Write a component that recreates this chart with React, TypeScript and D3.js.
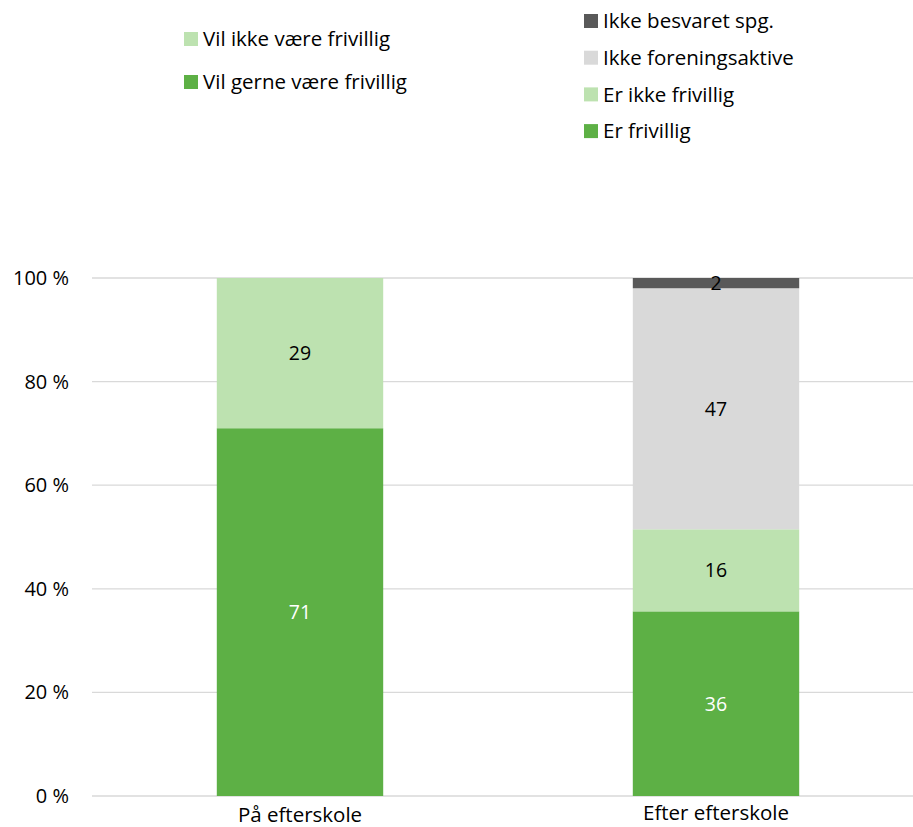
import React from "react";
import * as d3 from "d3";

const categories = ["På efterskole", "Efter efterskole"];
const seriesNames = ["Er frivillig", "Er ikke frivillig", "Ikke foreningsaktive", "Ikke besvaret spg."];
const barValues = [
  [71, 29, 0, 0],
  [36, 16, 47, 2],
];
const colors = ["#5DB045", "#BDE2B0", "#D9D9D9", "#595959"];
const labelColors = ["#FFFFFF", "#000000", "#000000", "#000000"];
const yTicks = [0, 20, 40, 60, 80, 100];
const legend1 = [
  { name: "Vil ikke være frivillig", color: "#BDE2B0" },
  { name: "Vil gerne være frivillig", color: "#5DB045" },
];
const legend2 = [
  { name: "Ikke besvaret spg.", color: "#595959" },
  { name: "Ikke foreningsaktive", color: "#D9D9D9" },
  { name: "Er ikke frivillig", color: "#BDE2B0" },
  { name: "Er frivillig", color: "#5DB045" },
];

const FONT = "'Open Sans', 'Noto Sans', sans-serif";

export default function App() {
  const W = 913, H = 827;
  const y = d3.scaleLinear().domain([0, 100]).range([796, 278]);
  const x = d3.scaleBand().domain(categories).range([92, 924]).paddingInner(0.6).paddingOuter(0.3);

  const rows = categories.map((c, i) => {
    const obj: any = { cat: c };
    seriesNames.forEach((s, j) => (obj[s] = barValues[i][j]));
    return obj;
  });
  const stack = d3.stack<any>().keys(seriesNames).offset(d3.stackOffsetExpand);
  const stacked = stack(rows);

  return (
    <svg width={W} height={H} style={{ position: "absolute", left: 0, top: 0, background: "#fff" }} fontFamily={FONT}>
      {yTicks.map((t) => (
        <g key={t}>
          <line x1={92} x2={913} y1={y(t)} y2={y(t)} stroke="#D9D9D9" strokeWidth={1.3} />
          <text x={69} y={y(t)} dy="0.35em" textAnchor="end" fontSize={20} fill="#000">
            {t} %
          </text>
        </g>
      ))}
      {stacked.map((layer, j) =>
        layer.map((d, i) => {
          const v = barValues[i][j];
          if (!v) return null;
          const x0 = x(categories[i])!;
          const y0 = y(d[1] * 100);
          const y1 = y(d[0] * 100);
          return (
            <g key={`${j}-${i}`}>
              <rect x={x0} y={y0} width={x.bandwidth()} height={y1 - y0} fill={colors[j]} />
              <text
                x={x0 + x.bandwidth() / 2}
                y={(y0 + y1) / 2}
                dy="0.35em"
                textAnchor="middle"
                fontSize={19.5}
                fill={labelColors[j]}
              >
                {v}
              </text>
            </g>
          );
        })
      )}
      {categories.map((c, i) => (
        <text key={c} x={x(c)! + x.bandwidth() / 2} y={i === 0 ? 815 : 813} dy="0.35em" textAnchor="middle" fontSize={20.5} fill="#000">
          {c}
        </text>
      ))}
      {legend1.map((l, i) => (
        <g key={l.name} transform={`translate(184, ${39 + i * 43})`}>
          <rect x={0} y={-7} width={14} height={14} fill={l.color} />
          <text x={19} y={0} dy="0.35em" fontSize={20.5} fill="#000">{l.name}</text>
        </g>
      ))}
      {legend2.map((l, i) => (
        <g key={l.name} transform={`translate(584, ${21 + i * 36.7})`}>
          <rect x={0} y={-7} width={14} height={14} fill={l.color} />
          <text x={19} y={0} dy="0.35em" fontSize={20.5} fill="#000">{l.name}</text>
        </g>
      ))}
    </svg>
  );
}
